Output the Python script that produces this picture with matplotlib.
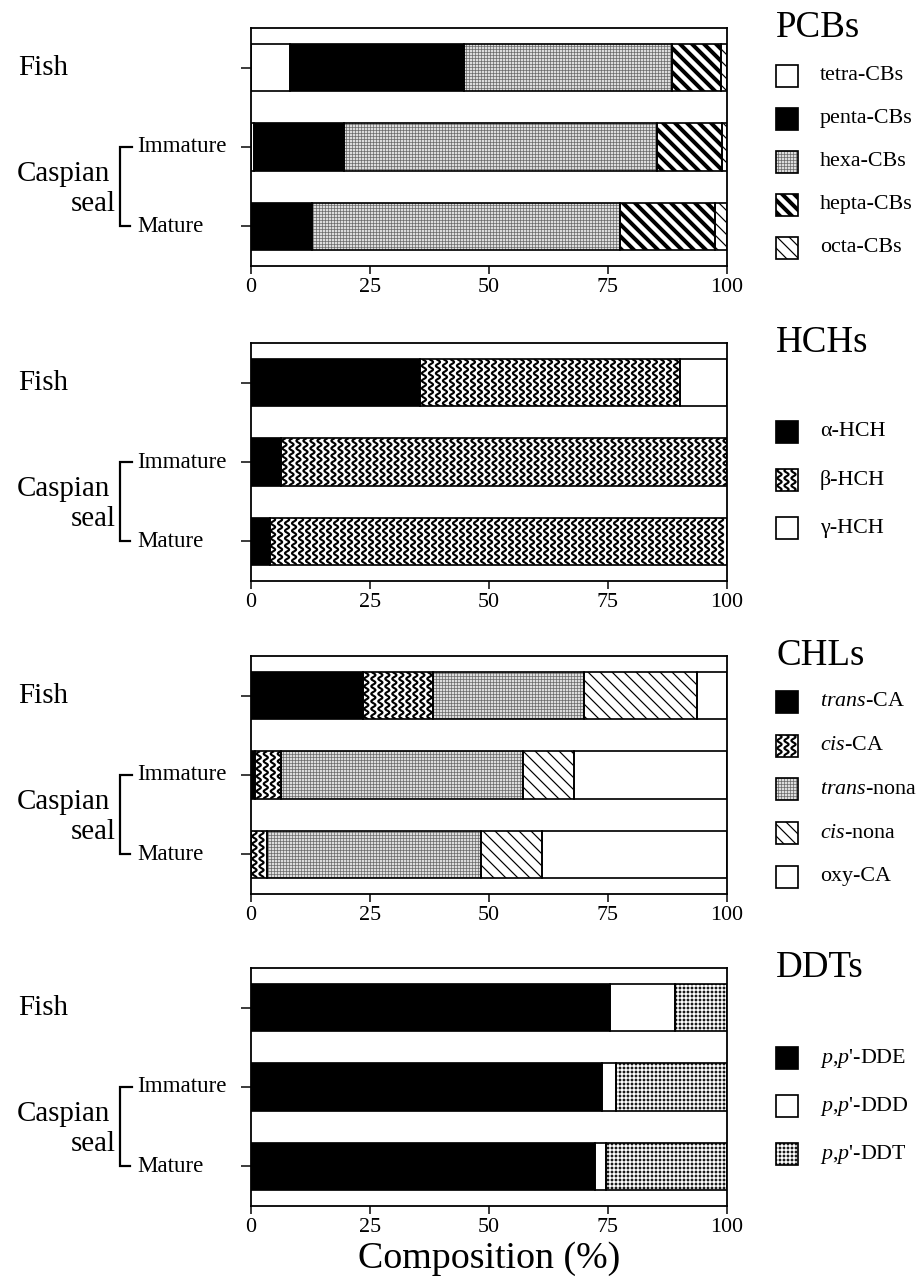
import numpy as np
import matplotlib
matplotlib.use('Agg')
import matplotlib.pyplot as plt
from matplotlib.patches import Rectangle
from matplotlib.collections import LineCollection

plt.rcParams['font.family'] = ['Liberation Serif', 'DejaVu Serif']
plt.rcParams['mathtext.fontset'] = 'custom'
plt.rcParams['mathtext.rm'] = 'Liberation Serif'
plt.rcParams['mathtext.it'] = 'Liberation Serif:italic'

# --- composition data (% of each group total) ---
rows = ['Fish', 'Immature', 'Mature']

pcb_labels = ['tetra-CBs', 'penta-CBs', 'hexa-CBs', 'hepta-CBs', 'octa-CBs']
pcb_fish = [8.2, 36.6, 43.6, 10.3, 1.3]
pcb_immature = [0.6, 19.0, 65.7, 13.7, 1.0]
pcb_mature = [0.0, 12.8, 64.8, 19.9, 2.5]

hch_labels = ['α-HCH', 'β-HCH', 'γ-HCH']
hch_fish = [35.6, 54.6, 9.8]
hch_immature = [6.3, 93.7, 0.0]
hch_mature = [3.9, 96.1, 0.0]

chl_labels = [r'$\it{trans}$-CA', r'$\it{cis}$-CA', r'$\it{trans}$-nona',
              r'$\it{cis}$-nona', 'oxy-CA']
chl_fish = [23.5, 14.8, 31.6, 23.8, 6.3]
chl_immature = [0.9, 5.3, 51.0, 10.6, 32.2]
chl_mature = [0.0, 3.4, 45.0, 12.8, 38.8]

ddt_labels = [r"$\it{p}$,$\it{p}$'-DDE", r"$\it{p}$,$\it{p}$'-DDD",
              r"$\it{p}$,$\it{p}$'-DDT"]
ddt_fish = [75.5, 13.5, 11.0]
ddt_immature = [73.7, 2.9, 23.4]
ddt_mature = [72.3, 2.2, 25.5]

# fill styles: face colour, hatch, hatch colour, hatch linewidth
STYLES = {
    'white': ('white', None, 'white', 0.0),
    'black': ('black', None, 'black', 0.0),
    'grid': ('#dcdcdc', '++++', '#6a6a6a', 0.7),
    'bold_diag': ('white', '\\\\', 'black', 4.0),
    'thin_diag': ('white', '\\\\', 'black', 1.2),
    'wave': ('white', None, 'white', 0.0),
    'dots': ('#1a1a1a', '+++', 'white', 1.4),
}

panels = [
    ('PCBs', pcb_labels, [pcb_fish, pcb_immature, pcb_mature],
     ['white', 'black', 'grid', 'bold_diag', 'thin_diag'], 28, 76, 43),
    ('HCHs', hch_labels, [hch_fish, hch_immature, hch_mature],
     ['black', 'wave', 'white'], 343, 432, 48),
    ('CHLs', chl_labels, [chl_fish, chl_immature, chl_mature],
     ['black', 'wave', 'grid', 'thin_diag', 'white'], 656, 702, 43.7),
    ('DDTs', ddt_labels, [ddt_fish, ddt_immature, ddt_mature],
     ['black', 'white', 'dots'], 968, 1058, 48),
]

# --- layout in pixels (dpi 72, so 1 pt == 1 px) ---
DPI = 72
FIG_W, FIG_H = 924, 1285
AX_L, AX_W, AX_H = 251, 476, 238
BAR_H = 0.6
PX_X = AX_W / 100.0
PX_Y = AX_H / 3.0


def draw_wave(ax, x0, x1, y0, y1, sx, sy, clip):
    # vertical wavy lines, spacing/period in pixels
    dx, period, amp = 7.0, 7.5, 2.1
    yy = np.linspace(y0, y1, 160)
    segs = []
    for xc in np.arange(x0 + dx / (2 * sx), x1, dx / sx):
        xs = xc + amp / sx * np.sin(2 * np.pi * yy * sy / period)
        segs.append(np.column_stack([xs, yy]))
    lc = LineCollection(segs, colors='black', linewidths=2.1, zorder=2.5)
    ax.add_collection(lc)
    lc.set_clip_path(clip)


def styled_rect(ax, x, y, w, h, style, sx, sy):
    face, hatch, hcol, hlw = STYLES[style]
    with plt.rc_context({'hatch.linewidth': hlw if hlw else 1.0}):
        r = Rectangle((x, y), w, h, facecolor=face, edgecolor=hcol,
                      linewidth=0, hatch=hatch, zorder=2)
        if hasattr(r, 'set_hatch_linewidth') and hlw:
            r.set_hatch_linewidth(hlw)
        ax.add_patch(r)
    if style == 'wave':
        draw_wave(ax, x, x + w, y, y + h, sx, sy, r)
    ax.add_patch(Rectangle((x, y), w, h, fill=False, edgecolor='black',
                           linewidth=1.7, zorder=3))


fig = plt.figure(figsize=(FIG_W / DPI, FIG_H / DPI), dpi=DPI)

# overlay in pixel coordinates for legends and row labels
ov = fig.add_axes([0, 0, 1, 1])
ov.set_xlim(0, FIG_W)
ov.set_ylim(FIG_H, 0)
ov.axis('off')

ypos = np.arange(len(rows))

for title, labels, groups, styles, top, leg_y0, leg_dy in panels:
    ax = fig.add_axes([AX_L / FIG_W, (FIG_H - top - AX_H) / FIG_H,
                       AX_W / FIG_W, AX_H / FIG_H])
    for yi, vals in zip(ypos, groups):
        left = 0.0
        for v, st in zip(vals, styles):
            styled_rect(ax, left, yi - BAR_H / 2, v, BAR_H, st, PX_X, PX_Y)
            left += v
    ax.set_xlim(0, 100)
    ax.set_ylim(2.5, -0.5)
    ax.set_xticks([0, 25, 50, 75, 100])
    ax.set_yticks(ypos)
    ax.set_yticklabels([])
    ax.tick_params(axis='x', direction='out', length=8, width=1.5,
                   labelsize=22, pad=4)
    ax.tick_params(axis='y', direction='out', length=10, width=1.5)
    for sp in ax.spines.values():
        sp.set_linewidth(1.8)

    # row labels with bracket for the seal groups
    row_px = [top + (i + 0.5) * PX_Y for i in ypos]
    ov.text(18, row_px[0], rows[0], fontsize=29, ha='left', va='center')
    ov.text(137, row_px[1], rows[1], fontsize=23, ha='left', va='center')
    ov.text(137, row_px[2], rows[2], fontsize=23, ha='left', va='center')
    ov.plot([132, 120, 120, 130], [row_px[1], row_px[1], row_px[2], row_px[2]],
            color='black', lw=2.2, solid_joinstyle='miter')
    ov.text(110, row_px[1] + 0.34 * PX_Y, 'Caspian', fontsize=29,
            ha='right', va='center')
    ov.text(116, row_px[1] + 0.72 * PX_Y, 'seal', fontsize=29,
            ha='right', va='center')

    # legend
    ov.text(776, top + 9, title, fontsize=37, ha='left', va='baseline')
    for k, (lab, st) in enumerate(zip(labels, styles)):
        cy = leg_y0 + k * leg_dy
        styled_rect(ov, 776, cy - 11, 22, 22, st, 1.0, 1.0)
        ov.text(820, cy, lab, fontsize=22, ha='left', va='center')

ax.set_xlabel('Composition (%)', fontsize=38, labelpad=4)

fig.savefig('out.png', dpi=DPI)
